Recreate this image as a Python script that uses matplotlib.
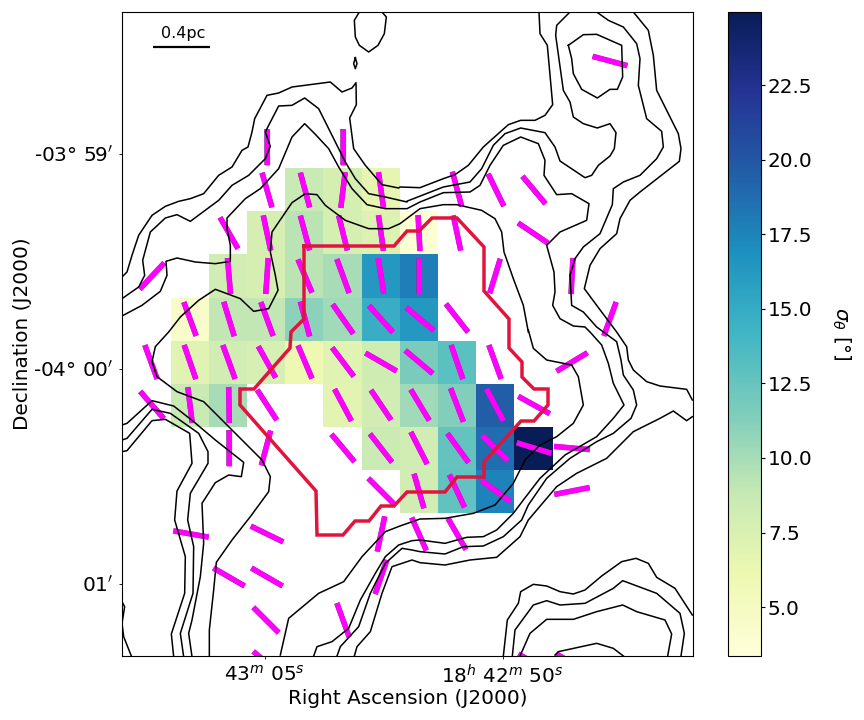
import numpy as np
import matplotlib
matplotlib.use("Agg")
import matplotlib.pyplot as plt
from matplotlib.colors import Normalize
from matplotlib.collections import LineCollection
import matplotlib.patheffects as pe

W, H = 864, 720
L, R, T, B = 122, 693, 12, 656

# ---- map data (coordinates on the map, in map units) ----
col_edges = [171, 209, 247, 285, 323, 362, 400, 438, 476, 514, 553]
row_edges = [168, 211, 254, 298, 341, 384, 427, 470, 513]
n = np.nan
sigma_row0 = [n, n, n, 8.6, 7.8, 6.6, n, n, n, n]
sigma_row1 = [n, n, 7.8, 9.2, 7.8, 7.2, 3.7, n, n, n]
sigma_row2 = [n, 8.0, 7.8, 9.2, 10.0, 16.3, 17.8, n, n, n]
sigma_row3 = [4.5, 9.0, 9.0, 11.0, 10.2, 14.8, 16.3, n, n, n]
sigma_row4 = [7.0, 8.0, 7.7, 5.9, 7.0, 8.2, 11.7, 13.0, n, n]
sigma_row5 = [8.6, 10.0, n, n, 6.8, 8.0, 10.2, 11.3, 19.6, n]
sigma_row6 = [n, n, n, n, n, 8.5, 8.0, 12.6, 18.7, 25.0]
sigma_row7 = [n, n, n, n, n, n, 8.0, 12.8, 17.6, n]
sigma = [sigma_row0, sigma_row1, sigma_row2, sigma_row3, sigma_row4,
         sigma_row5, sigma_row6, sigma_row7]

vec_x = [610, 267, 343, 267, 305, 343, 381, 457, 496, 534,
         229, 267, 305, 343, 381, 419, 457, 533,
         152, 229, 267, 305, 343, 381, 419, 495, 572,
         190, 229, 267, 305, 343, 381, 420, 457, 610,
         151, 190, 229, 267, 305, 343, 381, 419, 457, 495, 572,
         152, 190, 229, 267, 343, 381, 420, 457, 495, 534,
         229, 266, 343, 381, 419, 458, 495, 534, 572,
         381, 419, 457, 496, 572,
         191, 267, 381, 419, 457,
         229, 267, 381,
         266, 343,
         267, 534, 572]
vec_y = [61, 147, 147, 190, 190, 190, 190, 189, 190, 190,
         233, 233, 233, 233, 233, 233, 233, 233,
         276, 276, 276, 276, 276, 276, 276, 276, 276,
         319, 319, 319, 319, 319, 319, 319, 318, 319,
         362, 362, 362, 362, 362, 362, 362, 362, 362, 362, 362,
         405, 405, 405, 405, 405, 405, 405, 405, 405, 405,
         448, 448, 448, 448, 448, 448, 448, 448, 448,
         491, 491, 491, 491, 491,
         534, 534, 534, 534, 534,
         577, 577, 577,
         620, 620,
         663, 663, 663]
vec_ang = [75, 0, 0, 16, 15, -7, 8, 15, 26, 40,
           30, 12, 15, 14, 8, 3, 12, 56,
           -43, 5, -4, 23, 20, 9, 0, -17, -3,
           20, 17, 20, 15, 35, 42, 50, 38, -20,
           20, 19, 20, 29, 23, 37, 60, 50, 19, 20, -59,
           41, 7, 1, 33, 28, 34, 31, 21, 28, 61,
           0, -15, 40, 38, 27, 36, 46, 73, 85,
           45, 16, 25, 54, -79,
           80, 64, -12, 24, 30,
           60, 60, -19,
           45, 20,
           50, 60, 60]
vec_len = 36

red_x = [304, 394, 407, 419, 432, 457, 484, 484, 509, 509, 522, 522, 534, 548, 548, 534, 521,
         484, 484, 457, 445, 407, 394, 381, 369, 355, 343, 317, 316, 240, 240, 254, 290, 291, 304, 304]
red_y = [246, 246, 231, 231, 218, 218, 247, 291, 319, 348, 362, 377, 389, 389, 405, 421, 421,
         462, 477, 477, 492, 492, 506, 506, 521, 521, 535, 535, 491, 405, 389, 389, 348, 332, 319, 246]

def c1(p): return [(122 + x / 3, 12 + y / 3) for x, y in p]
def c2(p): return [(400 + x / 3, 12 + y / 3) for x, y in p]
def c3(p): return [(122 + x / 3, 330 + y / 3) for x, y in p]
def c4(p): return [(400 + x / 3, 330 + y / 3) for x, y in p]

contours = [
    # A: left edge to top edge
    c1([(0,795),(15,780),(30,730),(50,670),(90,610),(130,583),(170,568),(205,560),(245,545),(290,490),(330,465),(360,415),(378,405),(390,360),(398,320),(435,250),(470,243),(510,225),(625,210),(660,240),(690,228),(702,212),(703,278),(683,318),(695,410),(730,460),(780,518),(830,528)])
    + c2([(0,525),(60,527),(130,500),(165,488),(205,460),(250,405),(325,338),(362,325),(405,325),(435,310),(458,278),(442,100),(420,65),(417,0)]),
    # B: left edge to top edge
    c1([(0,860),(50,825),(68,790),(62,745),(85,660),(130,618),(165,608),(205,628),(290,565),(330,520),(380,490),(430,440),(445,403),(430,360),(440,340),(470,282),(510,280),(548,258),(590,290),(620,350),(670,450),(700,500),(740,545),(790,555),(855,570)])
    + c2([(20,568),(130,525),(210,510),(245,470),(280,400),(315,365),(362,348),(435,362),(465,405),(480,447),(555,497),(575,490),(595,460),(630,432),(643,410),(648,362),(630,335),(592,348),(550,335),(520,315),(510,270),(490,235),(467,70),(470,40),(510,0)]),
    # C and L1: left edge to bottom edge
    c1([(0,912),(60,880),(115,838),(135,790),(132,748),(165,738),(220,750),(280,755),(325,748),(325,700),(315,650),(315,618),(370,560),(415,530),(470,470),(510,375),(548,335),(580,367),(620,410),(650,465),(690,530),(735,578),(790,590),(855,590)])
    + c2([(60,570),(130,542),(210,540),(240,520),(270,460),(310,400),(362,375),(415,395),(435,445),(432,490),(470,548),(515,545),(567,575),(560,625),(480,660),(440,700),(462,780),(465,840),(458,880),(480,920),(520,942),(555,945),(570,960)])
    + c4([(605,45),(625,100),(640,160),(672,225),(640,265),(590,320),(495,375),(420,445),(370,510),(340,550),(290,600),(250,620),(200,622),(135,640),(60,630)])
    + c3([(870,632),(830,645),(790,680),(760,730),(715,810),(680,895),(630,935),(585,950),(575,978)]),
    # B' and L2: top edge to bottom edge
    c2([(590,0),(625,25),(670,45),(710,95),(720,140),(715,220),(740,320),(785,358),(790,405),(770,440),(720,490),(670,510),(640,530),(637,578),(600,665),(550,705),(525,740),(510,790),(515,880),(550,900),(590,945)])
    + c4([(650,35),(663,90),(670,135),(700,180),(710,225),(693,265),(640,310),(590,335),(510,385),(440,445),(385,525),(365,570),(310,620),(250,648),(190,650),(135,672),(60,665)])
    + c3([(870,660),(840,655),(790,700),(745,790),(710,890),(655,950),(645,978)]),
    # outermost right: top edge to right edge
    c2([(700,0),(745,55),(760,130),(770,235),(795,285),(835,365),(843,410),(838,448),(720,540),(690,565),(660,620),(650,665),(600,710),(570,760),(553,830),(590,880),(650,960)])
    + c4([(680,50),(685,90),(700,120),(740,155),(780,168),(860,178),(877,210)]),
    # L3: right edge to bottom edge
    c4([(877,260),(860,272),(820,243),(780,265),(700,305),(620,385),(530,430),(470,470),(385,570),(360,620),(290,682),(210,690),(135,705),(60,698)])
    + c3([(870,690),(810,710),(780,790),(745,905),(705,950),(697,978)]),
    # inner loop at top right
    c2([(505,100),(550,68),(590,67),(665,100),(668,195),(652,232),(630,232),(592,258),(545,232),(520,185),(515,140),(505,100)]),
    # D: innermost contour
    c2([(385,960),(370,880),(340,800),(312,720),(305,660),(285,620),(245,595),(170,578),(130,578),(60,590),(0,635)])
    + c1([(800,650),(740,650),(670,625),(610,580),(585,548),(550,545),(510,572),(450,660),(445,720),(460,790),(468,835),(440,890),(395,898),(355,860),(280,832),(230,865),(175,915),(140,960)])
    + c3([(100,50),(90,95),(105,140),(165,185),(245,215),(360,330),(420,390),(445,440),(440,485),(385,560),(330,630),(283,697),(275,780),(262,900),(262,980)]),
    # D continued on the right
    c4([(385,0),(400,55),(440,90),(515,105),(535,140),(550,225),(520,280),(470,320),(420,345),(375,390),(340,460),(285,525),(220,550),(135,565),(60,567),(0,588)])
    + c3([(790,605),(720,680),(665,755),(590,790),(500,865),(475,975)]),
    # left group going down
    c3([(0,285),(15,280),(90,212),(155,228),(215,275),(280,330),(365,397),(358,440),(320,435),(280,458),(240,520),(245,640),(235,740),(210,870),(200,910),(210,980)]),
    c3([(0,330),(15,325),(90,238),(145,250),(230,310),(258,365),(258,400),(205,490),(197,570),(215,650),(213,790),(175,910),(185,980)]),
    c3([(0,365),(15,362),(90,272),(130,268),(203,310),(210,400),(165,483),(158,570),(190,680),(188,790),(148,912),(155,980)]),
    c3([(0,815),(8,830),(0,880),(5,920),(28,978)]),
    # top islands
    c1([(712,0),(697,25),(700,75),(712,100),(740,120),(768,100),(787,65),(793,15),(780,0)]),
    c1([(700,137),(695,155),(700,170),(705,155),(700,137)]),
    # bottom right group
    c4([(310,978),(322,870),(355,820),(362,785),(400,763),(440,768),(480,785),(520,792),(555,780),(605,738),(665,695),(708,685),(745,700),(770,742),(825,775),(877,855)]),
    c4([(337,978),(345,900),(400,825),(440,812),(480,825),(555,820),(640,775),(668,752),(770,790),(840,850),(853,910),(843,978)]),
    c4([(360,978),(390,910),(440,868),(520,868),(590,845),(668,825),(710,845),(795,870),(815,912),(803,978)]),
    c4([(465,975),(475,965),(590,940),(640,955),(670,978)]),
]

x_tick_pos = [264.5, 502.5]
x_tick_labels = [r"$43^{m}\ 05^{s}$", r"$18^{h}\ 42^{m}\ 50^{s}$"]
y_tick_pos = [154, 369, 584]
y_tick_labels = [r"-03$\degree$ 59$^{\prime}$", r"-04$\degree$ 00$^{\prime}$", r"01$^{\prime}$"]
cb_ticks = [5, 7.5, 10, 12.5, 15, 17.5, 20, 22.5]

FS = 14.4

# ---- drawing ----
fig = plt.figure(figsize=(W / 100, H / 100), dpi=100)
ax = fig.add_axes([L / W, 1 - B / H, (R - L) / W, (B - T) / H])
norm = Normalize(3.36, 24.95)
mesh = ax.pcolormesh(col_edges, row_edges, np.ma.masked_invalid(sigma), cmap="YlGnBu", norm=norm, zorder=1)

ang = np.radians(vec_ang)
hx = 0.5 * vec_len * np.sin(ang)
hy = 0.5 * vec_len * np.cos(ang)
vx, vy = np.array(vec_x), np.array(vec_y)
segments = [[(a - dx, b - dy), (a + dx, b + dy)] for a, b, dx, dy in zip(vx, vy, hx, hy)]
vectors = LineCollection(segments, colors="#ff00ff", linewidths=3.7, capstyle="butt", zorder=2,
                         path_effects=[pe.withStroke(linewidth=4.0, foreground="#8f2f9f", capstyle="butt")])
ax.add_collection(vectors)

for c in contours:
    xs, ys = zip(*c)
    ax.plot(xs, ys, color="black", lw=1.1, zorder=3, solid_joinstyle="round")

ax.plot(red_x, red_y, color="#e0143c", lw=2.5, zorder=4, solid_joinstyle="miter")

ax.plot([153, 210], [47, 47], color="black", lw=1.6, zorder=5, solid_capstyle="butt")
ax.text(183.5, 41, "0.4pc", ha="center", va="bottom", fontsize=11.5, zorder=5)

ax.set_xlim(L, R)
ax.set_ylim(B, T)
ax.set_xticks(x_tick_pos, x_tick_labels)
ax.set_yticks(y_tick_pos, y_tick_labels)
ax.tick_params(axis="both", labelsize=FS, length=2, width=0.6, pad=4)
ax.set_xlabel("Right Ascension (J2000)", fontsize=FS, labelpad=1)
ax.set_ylabel("Declination (J2000)", fontsize=FS, labelpad=1)

cax = fig.add_axes([728 / W, 1 - B / H, 33 / W, (B - T) / H])
cb = fig.colorbar(mesh, cax=cax)
cb.set_ticks(cb_ticks)
cb.ax.tick_params(labelsize=FS, length=3, width=0.8, pad=2)
cb.outline.set_linewidth(0.8)
cb.set_label(r"$\sigma_{\theta}$ [$\degree$]", fontsize=FS, rotation=270, labelpad=28.5)

fig.savefig("out.png", dpi=100)
